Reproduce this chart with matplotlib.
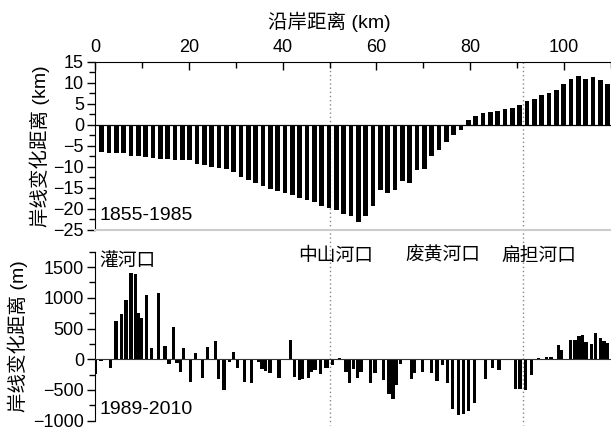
import matplotlib
matplotlib.use("Agg")
import matplotlib.pyplot as plt
import matplotlib.transforms as mtransforms
from matplotlib.ticker import MultipleLocator
import numpy as np

plt.rcParams["font.family"] = ["Liberation Sans", "Noto Sans CJK SC"]
plt.rcParams["axes.unicode_minus"] = True

# shoreline change 1855-1985 (km), sampled every ~1.56 km along the coast
top_start, top_step = 1.43, 1.563
top_change_km = [
    -6.35, -6.67, -6.8, -6.8, -7.3, -7.46, -7.6, -7.9, -8.1, -8.1,
    -8.25, -8.25, -8.4, -9.2, -9.5, -10.0, -10.3, -10.6, -11.3, -12.5,
    -13.2, -13.8, -14.6, -15.2, -15.8, -16.3, -16.6, -17.4, -17.9, -18.4,
    -19.3, -19.8, -20.3, -21.2, -21.7, -23.0, -21.7, -19.2, -15.5, -16.3,
    -15.5, -13.4, -13.9, -10.8, -10.4, -7.4, -6.0, -4.1, -2.5, -1.3,
    1.2, 2.06, 2.7, 3.0, 3.33, 3.8, 3.97, 4.8, 5.56, 6.1,
    7.0, 7.5, 8.25, 9.7, 11.0, 11.6, 11.0, 11.35, 10.6, 9.7,
]

# shoreline change 1989-2010 (m)
bot_dist_km = [
    0.1, 1.3, 3.3, 4.5, 5.7, 6.6, 7.7, 8.7, 9.3, 9.9,
    11.0, 12.1, 13.6, 14.9, 15.8, 16.7, 17.5, 18.2, 18.8, 20.4,
    21.5, 22.9, 24.0, 25.7, 26.4, 27.5, 28.7, 29.6, 30.4, 31.8,
    33.3, 34.8, 35.6, 36.4, 37.3, 39.2, 40.2, 41.6, 42.5, 43.6,
    44.3, 45.5, 46.2, 46.9, 48.0, 49.1, 49.6, 50.7, 52.1, 53.5,
    54.2, 55.1, 56.0, 56.7, 58.8, 59.7, 61.5, 62.7, 63.5, 64.2,
    65.2, 67.4, 68.1, 69.8, 71.8, 72.9, 74.1, 75.1, 76.2, 77.5,
    78.5, 79.6, 80.9, 83.2, 84.7, 86.1, 88.5, 89.6, 90.6, 91.8,
    93.0, 94.5, 96.3, 97.2, 98.8, 99.4, 101.4, 102.3, 103.2, 103.9,
    104.7, 105.8, 106.7, 107.7, 108.5, 109.3,
]
bot_change_m = [
    -240, -27, -136, 620, 730, 957, 1400, 1390, 745, 665,
    1040, 190, 1070, 212, -80, 530, -54, -200, 180, -375,
    98, -300, 206, 293, -315, -500, -50, 114, -147, -375,
    -390, -50, -160, -185, -230, -305, -15, 320, -290, -345,
    -320, -300, -206, -168, -234, -136, -136, -100, 27, -206,
    -380, -152, -300, -206, -380, -223, -342, -570, -640, -424,
    -70, -326, -223, -206, -230, -353, -98, -380, -815, -913,
    -886, -842, -712, -315, -136, -180, 10, -478, -490, -495,
    -250, 22, 33, 33, 228, 147, 320, 310, 386, 402,
    277, 245, 435, 348, 300, 266,
]

estuary_names = ["灌河口", "中山河口", "废黄河口", "扁担河口"]
estuary_x = [0.85, 43.3, 66.1, 86.7]
estuary_y = [1590, 1680, 1680, 1680]
divider_km = [50.0, 91.3]

top_dist_km = top_start + top_step * np.arange(len(top_change_km))

fig = plt.figure(figsize=(6.11, 4.30), dpi=100)
W, H = 611, 430
ax_top = fig.add_axes([95 / W, 1 - 230 / H, 516 / W, (230 - 61.7) / H])
ax_bot = fig.add_axes([95 / W, 1 - 420.7 / H, 516 / W, (420.7 - 251.7) / H])
for ax in (ax_top, ax_bot):
    ax.set_facecolor("none")

ax_top.bar(top_dist_km, top_change_km, width=1.0, color="black", zorder=3)
ax_top.axhline(0, color="black", lw=0.9, zorder=4)
ax_top.set_xlim(0, 110)
ax_top.set_ylim(-25, 15)
ax_top.xaxis.tick_top()
ax_top.xaxis.set_major_locator(MultipleLocator(20))
ax_top.xaxis.set_minor_locator(MultipleLocator(10))
ax_top.yaxis.set_major_locator(MultipleLocator(5))
ax_top.yaxis.set_minor_locator(MultipleLocator(2.5))
ax_top.tick_params(axis="x", which="both", direction="in", labelsize=13, pad=4)
ax_top.tick_params(axis="x", which="major", length=6, width=1)
ax_top.tick_params(axis="x", which="minor", length=4, width=1)
ax_top.tick_params(axis="y", which="major", direction="out", length=6, width=1, labelsize=13, pad=2)
ax_top.tick_params(axis="y", which="minor", direction="out", length=4, width=1)
ax_top.spines["right"].set_visible(False)
ax_top.spines["bottom"].set_color("#cccccc")
ax_top.spines["bottom"].set_linewidth(1.5)
ax_top.set_ylabel("岸线变化距离 (km)", fontsize=14, labelpad=0)
ax_top.yaxis.set_label_coords(-0.087, 0.5)
ax_top.text(1.0, -21.5, "1855-1985", fontsize=14, va="center", ha="left")

ax_bot.bar(bot_dist_km, bot_change_m, width=0.7, color="black", zorder=3)
ax_bot.axhline(0, color="#333333", lw=0.8, zorder=4)
ax_bot.set_xlim(0, 110)
ax_bot.set_ylim(-1000, 1750)
ax_bot.yaxis.set_major_locator(MultipleLocator(500))
ax_bot.yaxis.set_minor_locator(MultipleLocator(250))
ax_bot.tick_params(axis="y", which="major", direction="out", length=6, width=1, labelsize=13, pad=2)
ax_bot.tick_params(axis="y", which="minor", direction="out", length=4, width=1)
ax_bot.set_xticks([])
for side in ("top", "right", "bottom"):
    ax_bot.spines[side].set_visible(False)
ax_bot.set_ylabel("岸线变化距离 (m)", fontsize=14, labelpad=0)
ax_bot.yaxis.set_label_coords(-0.130, 0.5)
ax_bot.text(1.0, -820, "1989-2010", fontsize=14, va="center", ha="left")
for name, x, y in zip(estuary_names, estuary_x, estuary_y):
    ax_bot.text(x, y, name, fontsize=13.5, va="center", ha="left")

# dotted dividers running through both panels, behind the bars
trans = mtransforms.blended_transform_factory(ax_top.transData, fig.transFigure)
for xd in divider_km:
    fig.add_artist(plt.Line2D([xd, xd], [1 - 61.7 / H, 1 - 425 / H], transform=trans,
                              color="#888888", lw=1, ls=(0, (1, 2)), zorder=-1))

fig.text(329 / W, 1 - 21.5 / H, "沿岸距离 (km)", fontsize=14, ha="center", va="center")

fig.savefig("out.png", dpi=100)
